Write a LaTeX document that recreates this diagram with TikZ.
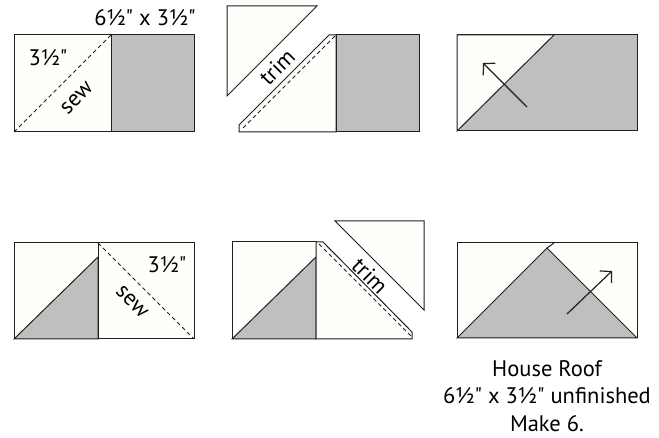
\documentclass[tikz,border=0pt]{standalone}
\usepackage{fontspec}
\setmainfont{PT Sans}[Ligatures=TeXOff]
\usetikzlibrary{arrows.meta}
\definecolor{fabric}{gray}{0.75}
\definecolor{muslin}{rgb}{0.995,0.995,0.985}
\definecolor{ink}{RGB}{35,31,32}

\begin{document}
\begin{tikzpicture}[x=1pt,y=-1pt,
  patch/.style={draw=ink,line width=1pt,fill=muslin},
  shade/.style={draw=ink,line width=1pt,fill=fabric},
  seam/.style={draw=ink,line width=0.8pt,dash pattern=on 4pt off 3pt},
  press/.style={draw=ink,line width=1.2pt,-{Straight Barb[length=8pt,width=17pt]}},
  lbl/.style={font=\fontsize{22.5}{27.5}\selectfont,inner sep=0pt}]
\useasboundingbox (0,0) rectangle (659,438);
% sew the square on
\draw[patch] (14,35) rectangle (111,132);
\draw[shade] (111,35) rectangle (194,132);
\draw[seam] (14,132) -- (111,35);
\node[lbl] (size) at (145,18) {6½" x 3½"};
\node[lbl] (sq1) at (48,58) {3½"};
\node[lbl,rotate=45] (sew1) at (77,98) {sew};
% trim
\draw[patch] (227,6) -- (317,6) -- (227,96) -- cycle;
\draw[patch] (239,132) -- (239,125) -- (329,35) -- (336,35) -- (336,132) -- cycle;
\draw[shade] (336,35) rectangle (419,132);
\draw[seam] (243,128) -- (336,35);
\node[lbl,rotate=45] (trim1) at (277,67) {trim};
% press
\draw[shade] (457,35) rectangle (637,131);
\draw[patch] (457,131) -- (457,35) -- (554,35) -- cycle;
\coordinate (from1) at (527,107);
\coordinate (to1) at (483,63);
\draw[press] (from1) -- (to1);
% second square
\draw[patch] (14,243) rectangle (98,339);
\draw[shade] (14,339) -- (98,257) -- (98,339) -- cycle;
\draw[patch] (98,243) rectangle (194,339);
\draw[seam] (98,243) -- (194,339);
\node[lbl] (sq2) at (167,265) {3½"};
\node[lbl,rotate=-45] (sew2) at (132,302) {sew};
% trim again
\draw[patch] (232,242) rectangle (316,339);
\draw[shade] (232,339) -- (316,257) -- (316,339) -- cycle;
\draw[patch] (316,242) -- (323,242) -- (412,332) -- (412,339) -- (316,339) -- cycle;
\draw[seam] (319,244) -- (412,337);
\draw[patch] (335,221) -- (424,221) -- (424,310) -- cycle;
\node[lbl,rotate=-45] (trim2) at (370,276) {trim};
% roof
\draw[patch] (457,243) rectangle (637,338);
\draw[shade] (457,338) -- (547,248) -- (637,338) -- cycle;
\draw[draw=ink,line width=1pt] (547,248) -- (554,243);
\coordinate (from2) at (567,314);
\coordinate (to2) at (612,271);
\draw[press] (from2) -- (to2);
\node[lbl,align=center] (caption) at (547,396) {House Roof\\6½" x 3½" unfinished\\Make 6.};
\end{tikzpicture}
\end{document}
